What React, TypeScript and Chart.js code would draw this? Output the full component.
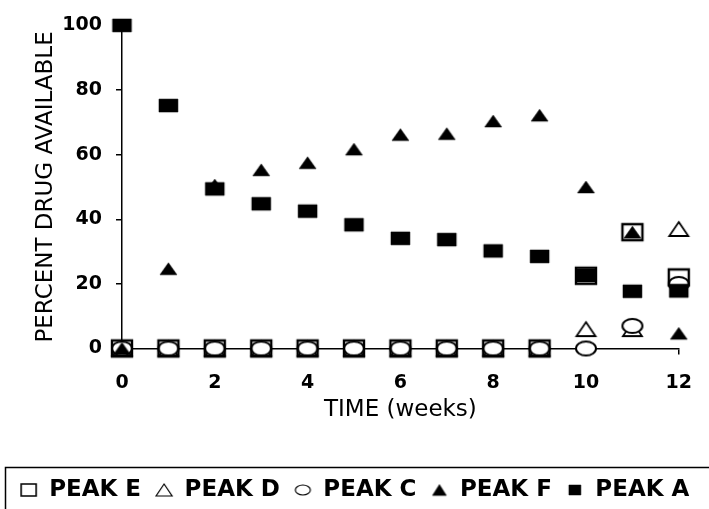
import React, { useEffect, useRef } from "react";
import { Chart, registerables } from "chart.js";

Chart.register(...registerables);

// ---- data ----
const WEEKS = [0, 1, 2, 3, 4, 5, 6, 7, 8, 9, 10, 11, 12];
const PEAK_E = [0, 0, 0, 0, 0, 0, 0, 0, 0, 0, 22.5, 36, 22];
const PEAK_D = [0, 0, 0, 0, 0, 0, 0, 0, 0, 0, 6, 6, 37];
const PEAK_C = [0, 0, 0, 0, 0, 0, 0, 0, 0, 0, 0, 7, 20];
const PEAK_F = [0, 24.7, 50.6, 55.3, 57.5, 61.7, 66.2, 66.5, 70.4, 72.2, 50, 36, 4.7];
const PEAK_A = [100, 75.2, 49.4, 44.8, 42.5, 38.3, 34.1, 33.7, 30.2, 28.5, 22.6, 17.7, 17.8];
const SERIES_NAMES = ["PEAK E", "PEAK D", "PEAK C", "PEAK F", "PEAK A"];
const Y_TICKS = [0, 20, 40, 60, 80, 100];
const X_TICKS = [0, 2, 4, 6, 8, 10, 12];
const X_TITLE = "TIME (weeks)";
const Y_TITLE = "PERCENT DRUG AVAILABLE";

const FONT = "DejaVu Sans";
const LEGEND_H = 44.5;
const LEGEND_PAD = 14;
const CANVAS_W = 709;

type Kind = "rect" | "tri" | "ellipse";

function marker(kind: Kind, w: number, h: number, filled: boolean, lw: number, bg?: string) {
  const pad = 3;
  const c = document.createElement("canvas");
  c.width = Math.round(w + pad * 2);
  c.height = Math.round(h + pad * 2);
  const ctx = c.getContext("2d")!;
  ctx.lineWidth = lw;
  ctx.strokeStyle = "#000";
  ctx.lineJoin = "miter";
  ctx.fillStyle = filled ? "#000" : bg || "rgba(0,0,0,0)";
  const x0 = (c.width - w) / 2;
  const y0 = (c.height - h) / 2;
  ctx.beginPath();
  if (kind === "rect") ctx.rect(x0, y0, w, h);
  else if (kind === "tri") {
    ctx.moveTo(x0 + w / 2, y0);
    ctx.lineTo(x0 + w, y0 + h);
    ctx.lineTo(x0, y0 + h);
    ctx.closePath();
  } else ctx.ellipse(x0 + w / 2, y0 + h / 2, w / 2, h / 2, 0, 0, Math.PI * 2);
  if (filled || bg) ctx.fill();
  if (lw > 0) ctx.stroke();
  return c;
}

export default function App() {
  const ref = useRef<HTMLCanvasElement>(null);

  useEffect(() => {
    const canvas = ref.current;
    if (!canvas) return;

    const plotMarks = {
      E: marker("rect", 20, 16, false, 2.4),
      D: marker("tri", 19, 14, false, 1.8),
      C: marker("ellipse", 20, 14, false, 2, "#fff"),
      F: marker("tri", 17, 12, true, 0.5),
      A: marker("rect", 19, 13, true, 0.5),
    };
    const legendMarks = [
      marker("rect", 15, 12, false, 1.6),
      marker("tri", 16, 12, false, 1.2),
      marker("ellipse", 15, 10, false, 1.2),
      marker("tri", 14, 11, true, 0.5),
      marker("rect", 12, 10, true, 0.5),
    ];

    const pts = (vals: number[]) => WEEKS.map((x, i) => ({ x, y: vals[i] }));

    const mk = (label: string, vals: number[], img: HTMLCanvasElement, order: number) => ({
      label,
      data: pts(vals),
      pointStyle: img,
      pointRadius: 8,
      showLine: false,
      clip: false as any,
      order,
      backgroundColor: "#000",
      borderColor: "#000",
    });

    const plugin = {
      id: "legendBoxFix",
      beforeLayout(chart: any) {
        const lg = chart.legend;
        if (lg && !lg.__patched) {
          const orig = lg.fit;
          lg.fit = function () {
            this.maxWidth = CANVAS_W;
            orig.call(this);
            this.height = LEGEND_H;
          };
          lg.__patched = true;
        }
      },
      afterLayout(chart: any) {
        const lg = chart.legend;
        if (!lg) return;
        lg.left = 0;
        lg.right = chart.width;
        lg.width = chart.width;
      },
      afterDraw(chart: any) {
        const lg = chart.legend;
        if (!lg) return;
        const ctx = chart.ctx;
        ctx.save();
        ctx.strokeStyle = "#000";
        ctx.lineWidth = 1.5;
        ctx.strokeRect(5.5, Math.round(lg.top) + 2.5, chart.width + 20, 80);
        ctx.restore();
      },
    };

    const chart = new Chart(canvas, {
      type: "scatter",
      data: {
        datasets: [
          mk(SERIES_NAMES[0], PEAK_E, plotMarks.E, 0),
          mk(SERIES_NAMES[1], PEAK_D, plotMarks.D, 4),
          mk(SERIES_NAMES[2], PEAK_C, plotMarks.C, 3),
          mk(SERIES_NAMES[3], PEAK_F, plotMarks.F, 1),
          mk(SERIES_NAMES[4], PEAK_A, plotMarks.A, 2),
        ] as any,
      },
      options: {
        animation: false,
        responsive: true,
        maintainAspectRatio: false,
        layout: { padding: { left: 0, right: 24, top: 22, bottom: 0 } },
        plugins: {
          tooltip: { enabled: false },
          legend: {
            position: "bottom",
            align: "center",
            labels: {
              usePointStyle: true,
              pointStyleWidth: 18,
              padding: LEGEND_PAD,
              color: "#000",
              font: { family: FONT, size: 23, weight: "bold" },
              generateLabels: () =>
                SERIES_NAMES.map((name, i) => ({
                  text: name,
                  pointStyle: legendMarks[i],
                  fillStyle: "#000",
                  strokeStyle: "#000",
                  lineWidth: 0,
                  hidden: false,
                  datasetIndex: i,
                  fontColor: "#000",
                })) as any,
            },
          },
        },
        scales: {
          x: {
            type: "linear",
            min: 0,
            max: 12,
            afterBuildTicks: (s: any) => {
              s.ticks = X_TICKS.map((v) => ({ value: v }));
            },
            afterFit: (s: any) => {
              s.height = 116;
            },
            ticks: {
              color: "#000",
              padding: 17,
              maxRotation: 0,
              font: { family: FONT, size: 19, weight: "bold" },
            },
            grid: {
              display: true,
              drawOnChartArea: false,
              drawTicks: true,
              tickLength: 6,
              lineWidth: 1.5,
              color: (ctx: any) => (ctx.tick && ctx.tick.value === 12 ? "#000" : "rgba(0,0,0,0)"),
            },
            border: { display: true, color: "#000", width: 1.5 },
            title: {
              display: true,
              text: X_TITLE,
              color: "#000",
              font: { family: FONT, size: 23, weight: "normal" },
              padding: { top: 0, bottom: 41 },
            },
          },
          y: {
            type: "linear",
            min: 0,
            max: 100,
            afterBuildTicks: (s: any) => {
              s.ticks = Y_TICKS.map((v) => ({ value: v }));
            },
            afterFit: (s: any) => {
              s.width = 122;
            },
            ticks: {
              color: "#000",
              padding: 14,
              font: { family: FONT, size: 19, weight: "bold" },
            },
            grid: {
              display: true,
              drawOnChartArea: false,
              drawTicks: true,
              tickLength: 6,
              lineWidth: 1.5,
              color: "#000",
            },
            border: { display: true, color: "#000", width: 1.5 },
            title: {
              display: true,
              text: Y_TITLE,
              color: "#000",
              font: { family: FONT, size: 23, weight: "normal" },
              padding: { top: 32, bottom: 0 },
            },
          },
        },
      },
      plugins: [plugin as any],
    });

    return () => chart.destroy();
  }, []);

  return (
    <div style={{ position: "absolute", left: 0, top: 0, width: 709, height: 509 }}>
      <canvas ref={ref} />
    </div>
  );
}
